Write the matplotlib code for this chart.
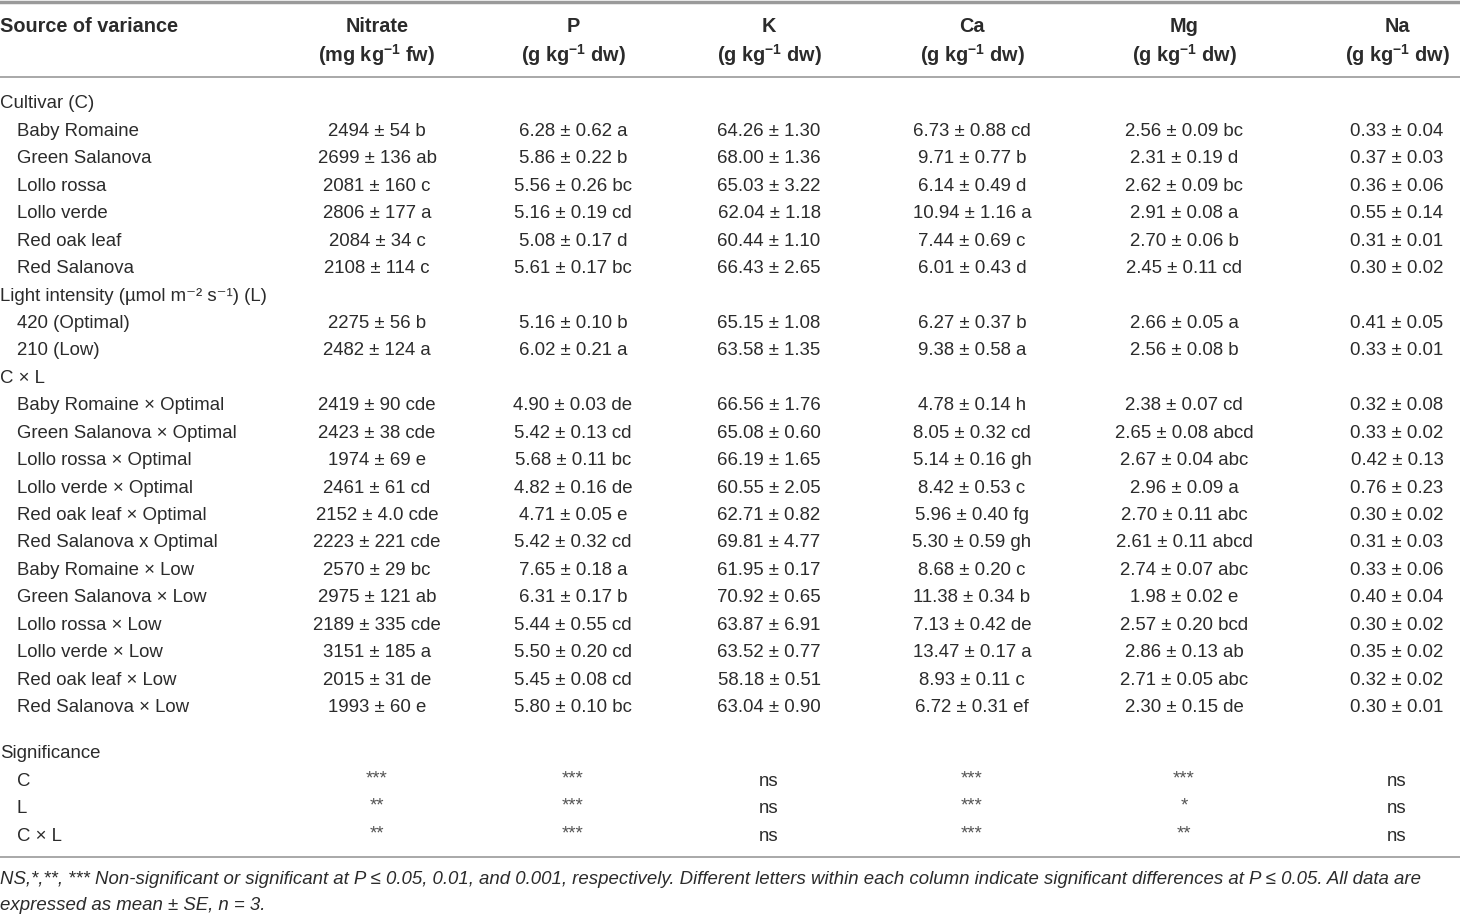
import matplotlib.pyplot as plt

plt.rcParams['font.family'] = ['Liberation Sans', 'DejaVu Sans']
plt.rcParams['mathtext.fontset'] = 'custom'
plt.rcParams['mathtext.rm'] = 'Liberation Sans'
plt.rcParams['mathtext.bf'] = 'Liberation Sans:bold'

# column headers
headers = ['Nitrate', 'P', 'K', 'Ca', 'Mg', 'Na']
units = [r'(mg kg$^{\mathbf{-1}}$ fw)'] + [r'(g kg$^{\mathbf{-1}}$ dw)'] * 5

# groups of rows: (group title, row labels, rows of cell strings)
cultivars = ['Baby Romaine', 'Green Salanova', 'Lollo rossa', 'Lollo verde',
             'Red oak leaf', 'Red Salanova']
cultivar_vals = [
    ['2494 ± 54 b', '6.28 ± 0.62 a', '64.26 ± 1.30', '6.73 ± 0.88 cd', '2.56 ± 0.09 bc', '0.33 ± 0.04'],
    ['2699 ± 136 ab', '5.86 ± 0.22 b', '68.00 ± 1.36', '9.71 ± 0.77 b', '2.31 ± 0.19 d', '0.37 ± 0.03'],
    ['2081 ± 160 c', '5.56 ± 0.26 bc', '65.03 ± 3.22', '6.14 ± 0.49 d', '2.62 ± 0.09 bc', '0.36 ± 0.06'],
    ['2806 ± 177 a', '5.16 ± 0.19 cd', '62.04 ± 1.18', '10.94 ± 1.16 a', '2.91 ± 0.08 a', '0.55 ± 0.14'],
    ['2084 ± 34 c', '5.08 ± 0.17 d', '60.44 ± 1.10', '7.44 ± 0.69 c', '2.70 ± 0.06 b', '0.31 ± 0.01'],
    ['2108 ± 114 c', '5.61 ± 0.17 bc', '66.43 ± 2.65', '6.01 ± 0.43 d', '2.45 ± 0.11 cd', '0.30 ± 0.02'],
]

light = ['420 (Optimal)', '210 (Low)']
light_vals = [
    ['2275 ± 56 b', '5.16 ± 0.10 b', '65.15 ± 1.08', '6.27 ± 0.37 b', '2.66 ± 0.05 a', '0.41 ± 0.05'],
    ['2482 ± 124 a', '6.02 ± 0.21 a', '63.58 ± 1.35', '9.38 ± 0.58 a', '2.56 ± 0.08 b', '0.33 ± 0.01'],
]

interaction = ['Baby Romaine × Optimal', 'Green Salanova × Optimal', 'Lollo rossa × Optimal',
               'Lollo verde × Optimal', 'Red oak leaf × Optimal', 'Red Salanova x Optimal',
               'Baby Romaine × Low', 'Green Salanova × Low', 'Lollo rossa × Low',
               'Lollo verde × Low', 'Red oak leaf × Low', 'Red Salanova × Low']
interaction_vals = [
    ['2419 ± 90 cde', '4.90 ± 0.03 de', '66.56 ± 1.76', '4.78 ± 0.14 h', '2.38 ± 0.07 cd', '0.32 ± 0.08'],
    ['2423 ± 38 cde', '5.42 ± 0.13 cd', '65.08 ± 0.60', '8.05 ± 0.32 cd', '2.65 ± 0.08 abcd', '0.33 ± 0.02'],
    ['1974 ± 69 e', '5.68 ± 0.11 bc', '66.19 ± 1.65', '5.14 ± 0.16 gh', '2.67 ± 0.04 abc', '0.42 ± 0.13'],
    ['2461 ± 61 cd', '4.82 ± 0.16 de', '60.55 ± 2.05', '8.42 ± 0.53 c', '2.96 ± 0.09 a', '0.76 ± 0.23'],
    ['2152 ± 4.0 cde', '4.71 ± 0.05 e', '62.71 ± 0.82', '5.96 ± 0.40 fg', '2.70 ± 0.11 abc', '0.30 ± 0.02'],
    ['2223 ± 221 cde', '5.42 ± 0.32 cd', '69.81 ± 4.77', '5.30 ± 0.59 gh', '2.61 ± 0.11 abcd', '0.31 ± 0.03'],
    ['2570 ± 29 bc', '7.65 ± 0.18 a', '61.95 ± 0.17', '8.68 ± 0.20 c', '2.74 ± 0.07 abc', '0.33 ± 0.06'],
    ['2975 ± 121 ab', '6.31 ± 0.17 b', '70.92 ± 0.65', '11.38 ± 0.34 b', '1.98 ± 0.02 e', '0.40 ± 0.04'],
    ['2189 ± 335 cde', '5.44 ± 0.55 cd', '63.87 ± 6.91', '7.13 ± 0.42 de', '2.57 ± 0.20 bcd', '0.30 ± 0.02'],
    ['3151 ± 185 a', '5.50 ± 0.20 cd', '63.52 ± 0.77', '13.47 ± 0.17 a', '2.86 ± 0.13 ab', '0.35 ± 0.02'],
    ['2015 ± 31 de', '5.45 ± 0.08 cd', '58.18 ± 0.51', '8.93 ± 0.11 c', '2.71 ± 0.05 abc', '0.32 ± 0.02'],
    ['1993 ± 60 e', '5.80 ± 0.10 bc', '63.04 ± 0.90', '6.72 ± 0.31 ef', '2.30 ± 0.15 de', '0.30 ± 0.01'],
]

effects = ['C', 'L', 'C × L']
significance = [
    ['***', '***', 'ns', '***', '***', 'ns'],
    ['**', '***', 'ns', '***', '*', 'ns'],
    ['**', '***', 'ns', '***', '**', 'ns'],
]

footnote = ['NS,*,**, *** Non-significant or significant at P ≤ 0.05, 0.01, and 0.001, respectively. '
            'Different letters within each column indicate significant differences at P ≤ 0.05. All data are',
            'expressed as mean ± SE, n = 3.']

# layout
col_x = [377, 573, 769, 972, 1184, 1397]
row_h = 27.43
fs = 13.4
hfs = 14.3
txt = '#2b2b2b'
rule = '#9a9a9a'

fig = plt.figure(figsize=(14.6, 9.15), dpi=100)
ax = fig.add_axes([0, 0, 1, 1])
ax.set_xlim(0, 1460)
ax.set_ylim(915, 0)
ax.axis('off')

ax.axhline(2, color=rule, lw=2.5)
ax.axhline(77, color=rule, lw=1.2)

ax.text(0, 27, 'Source of variance', fontsize=hfs, weight='bold', color=txt, va='center')
for x, h, u in zip(col_x, headers, units):
    ax.text(x, 27, h, fontsize=hfs, weight='bold', color=txt, ha='center', va='center')
    ax.text(x, 55, u, fontsize=hfs, weight='bold', color=txt, ha='center', va='center')

groups = [('Cultivar (C)', cultivars, cultivar_vals),
          ('Light intensity (µmol m⁻² s⁻¹) (L)', light, light_vals),
          ('C × L', interaction, interaction_vals)]

y = 104
for title, labels, vals in groups:
    ax.text(0, y, title, fontsize=fs, color=txt, va='center')
    y += row_h
    for lab, row in zip(labels, vals):
        ax.text(17, y, lab, fontsize=fs, color=txt, va='center')
        for x, v in zip(col_x, row):
            ax.text(x, y, v, fontsize=fs, color=txt, ha='center', va='center')
        y += row_h

y += 19
ax.text(0, y, 'Significance', fontsize=fs, color=txt, va='center')
y += row_h
for lab, row in zip(effects, significance):
    ax.text(17, y, lab, fontsize=fs, color=txt, va='center')
    for x, v in zip(col_x, row):
        if v == 'ns':
            ax.text(x, y, v, fontsize=fs, color=txt, ha='center', va='center')
        else:
            ax.text(x, y - 2.5, v, fontsize=fs, color='#555555', ha='center', va='center')
    y += row_h

ax.axhline(857, color=rule, lw=1.2)
ax.text(0, 880, footnote[0], fontsize=fs, style='italic', color=txt, va='center')
ax.text(0, 906, footnote[1], fontsize=fs, style='italic', color=txt, va='center')

fig.savefig('out.png', dpi=100)
